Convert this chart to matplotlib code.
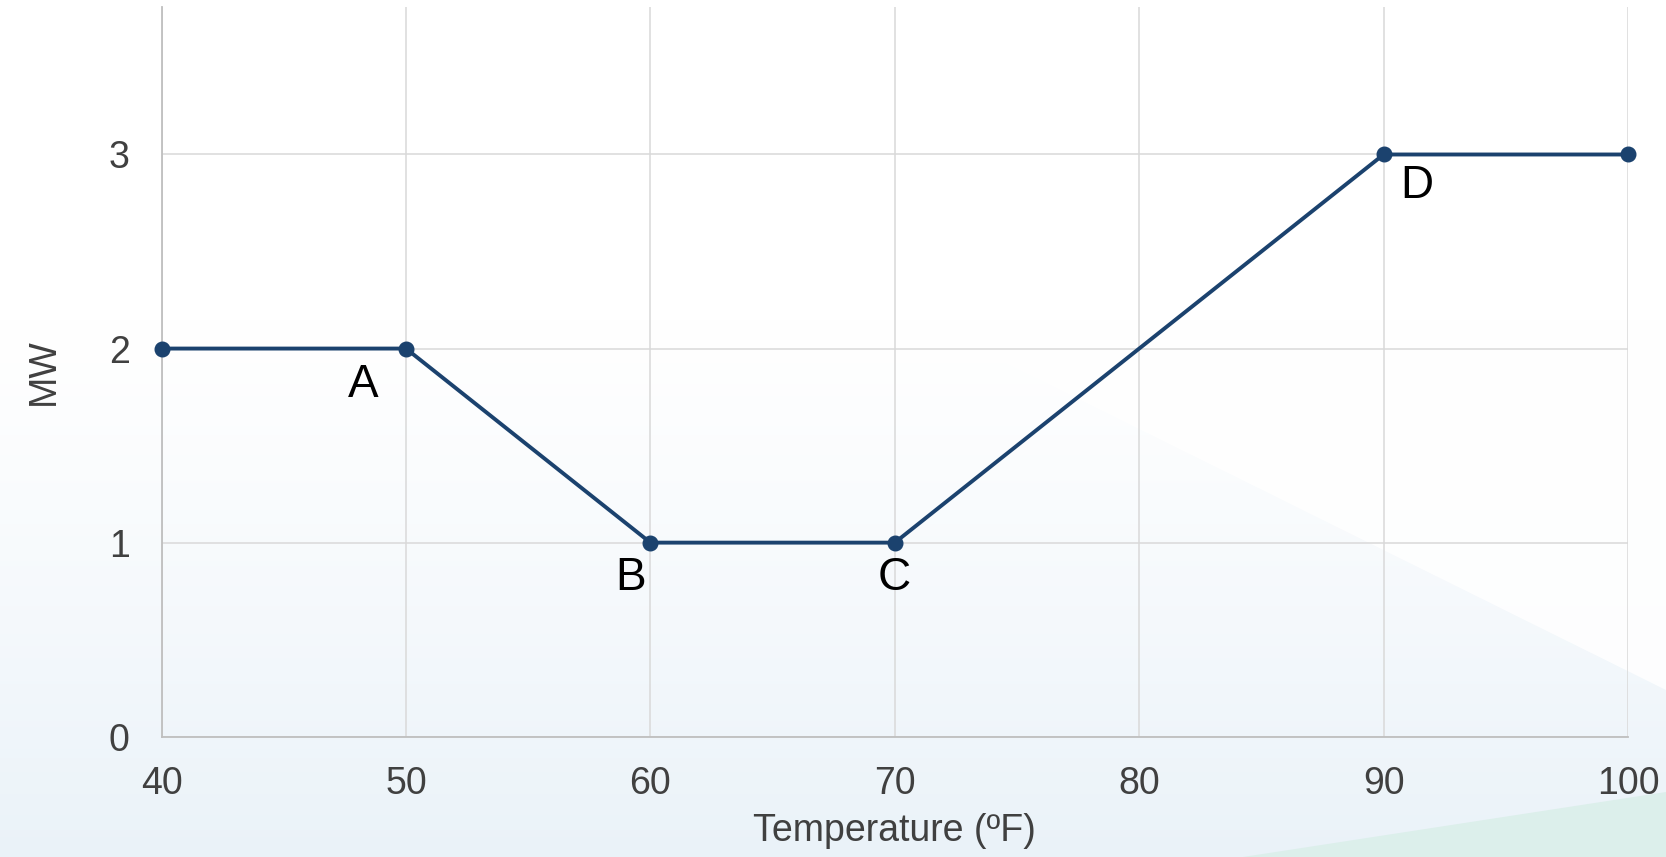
import numpy as np
import matplotlib
matplotlib.use("Agg")
import matplotlib.pyplot as plt
from matplotlib.patches import Polygon

# ---- data ----
temperature = [40, 50, 60, 70, 90, 100]
mw = [2, 2, 1, 1, 3, 3]
point_labels = ["", "A", "B", "C", "D", ""]
x_ticks = [40, 50, 60, 70, 80, 90, 100]
y_ticks = [0, 1, 2, 3]

W, H, DPI = 1666, 857, 100
plt.rcParams['font.family'] = ['Liberation Sans', 'DejaVu Sans']

fig = plt.figure(figsize=(W / DPI, H / DPI), dpi=DPI)

# ---- background ----
bg = fig.add_axes([0, 0, 1, 1], zorder=-10)
bg.set_xlim(0, W)
bg.set_ylim(H, 0)
bg.axis('off')
yy = np.linspace(0, 1, H)[:, None]
t = np.clip((yy * H - 320) / (H - 320), 0, 1) ** 1.2
top = np.array([1.0, 1.0, 1.0])
bottom = np.array([0.918, 0.950, 0.975])
img = top[None, None, :] * (1 - t[..., None]) + bottom[None, None, :] * t[..., None]
img = img * np.ones((1, W, 1))
bg.imshow(img, extent=[0, W, H, 0], aspect='auto', zorder=0)
bg.add_patch(Polygon([(1000, 360), (1666, 690), (1666, 0), (1000, 0)],
                     closed=True, facecolor='white', edgecolor='none', alpha=0.85, zorder=1))
bg.add_patch(Polygon([(1243, 857), (1666, 792), (1666, 857)],
                     closed=True, facecolor='#dcefeb', edgecolor='none', zorder=2))

# ---- main axes ----
ax = fig.add_axes([161.6 / W, (H - 736.7) / H, (1628 - 161.6) / W, (736.7 - 7) / H])
ax.set_facecolor('none')
ax.set_xlim(40, 100)
ax.set_ylim(0, 3.76)
ax.set_xticks(x_ticks)
ax.set_yticks(y_ticks)
ax.grid(True, color='#d9d9d9', linewidth=1.1, zorder=0)
ax.set_axisbelow(True)
for s in ['top', 'right']:
    ax.spines[s].set_visible(False)
for s in ['left', 'bottom']:
    ax.spines[s].set_color('#bfbfbf')
    ax.spines[s].set_linewidth(1.3)
ax.tick_params(length=0, labelsize=27, labelcolor='#404040')
ax.tick_params(axis='y', pad=23)
ax.tick_params(axis='x', pad=21)

ax.plot(temperature, mw, color='#1b426e', linewidth=2.8, marker='o',
        markersize=10.5, zorder=3, clip_on=False)

offsets = {"A": (-43, -36.5), "B": (-20, -35), "C": (-1, -35), "D": (33, -31.5)}
for xv, yv, lab in zip(temperature, mw, point_labels):
    if lab:
        dx, dy = offsets[lab]
        ax.annotate(lab, (xv, yv), xytext=(dx * 0.72, dy * 0.72), textcoords='offset points',
                    ha='center', va='center', fontsize=33, color='black')

ax.set_xlabel('Temperature (ºF)', fontsize=27, color='#404040', labelpad=8)
ax.set_ylabel('MW', fontsize=27, color='#404040', labelpad=34)

fig.savefig('out.png', dpi=DPI)
